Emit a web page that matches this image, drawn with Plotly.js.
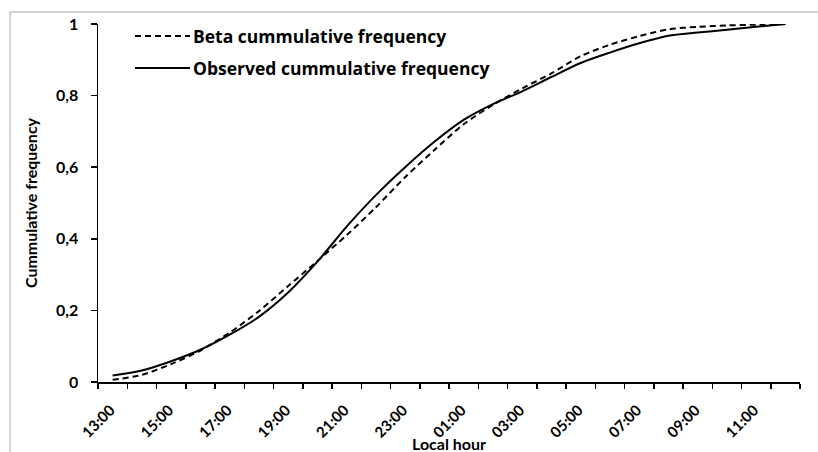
<!DOCTYPE html>
<html>
<head>
<meta charset="utf-8">
<script src="https://cdn.plot.ly/plotly-3.0.1.min.js"></script>
<style>html,body{margin:0;padding:0;background:#fff;}#chart{width:818px;height:452px;}</style>
</head>
<body>
<div id="chart"></div>
<script>
const hours = ['13:00','14:00','15:00','16:00','17:00','18:00','19:00','20:00','21:00','22:00','23:00','00:00',
               '01:00','02:00','03:00','04:00','05:00','06:00','07:00','08:00','09:00','10:00','11:00','12:00'];
const betaCum = [0.006, 0.02, 0.05, 0.088, 0.138, 0.198, 0.268, 0.338, 0.41, 0.488, 0.572, 0.648,
                 0.72, 0.774, 0.82, 0.862, 0.91, 0.942, 0.966, 0.985, 0.992, 0.996, 0.998, 1.0];
const observedCum = [0.018, 0.032, 0.058, 0.09, 0.132, 0.182, 0.25, 0.336, 0.434, 0.522, 0.6, 0.671,
                     0.732, 0.776, 0.812, 0.852, 0.891, 0.92, 0.946, 0.967, 0.976, 0.984, 0.992, 1.0];
const yTicks = [0, 0.2, 0.4, 0.6, 0.8, 1];
const seriesNames = ['Beta cummulative frequency', 'Observed cummulative frequency'];
const xTitle = 'Local hour';
const yTitle = 'Cummulative frequency';

const xIdx = hours.map((h, i) => i);
const labelIdx = xIdx.filter(i => i % 2 === 0);
const labelText = labelIdx.map(i => hours[i]);

const FONT = 'Lato, "Liberation Sans", sans-serif';
const LFONT = '"Open Sans", Lato, sans-serif';

const traces = [
  {x: xIdx, y: betaCum, type: 'scatter', mode: 'lines', name: seriesNames[0],
   line: {color: '#000', width: 2, dash: '6px,4px', shape: 'spline', smoothing: 0.8}},
  {x: xIdx, y: observedCum, type: 'scatter', mode: 'lines', name: seriesNames[1],
   line: {color: '#000', width: 2, shape: 'spline', smoothing: 0.8}}
];

const L = 98, R = 800, T = 24, B = 382;
const px = v => (v - L) / (R - L);
const py = v => (B - v) / (B - T);

const layout = {
  width: 818, height: 452,
  margin: {l: L, r: 818 - R, t: T, b: 452 - B},
  paper_bgcolor: '#fff', plot_bgcolor: '#fff',
  separators: ', ',
  showlegend: false,
  font: {family: FONT, color: '#000', size: 14},
  xaxis: {
    range: [-0.5, 23.5], showgrid: false, zeroline: false,
    showline: true, linecolor: '#000', linewidth: 1.5,
    tickmode: 'array', tickvals: labelIdx, ticktext: labelText, ticks: '',
    tickangle: -45, tickfont: {family: FONT, size: 15, color: '#000', weight: 'bold'},
    ticklabelstandoff: 12, ticklabelshift: -2,
    minor: {tickmode: 'linear', tick0: 0.5, dtick: 1, ticks: 'outside', ticklen: 5, tickwidth: 1.5, tickcolor: '#000', showgrid: false},
    automargin: false
  },
  yaxis: {
    range: [0, 1], showgrid: false, zeroline: false,
    showline: true, linecolor: '#000', linewidth: 1.5,
    tickmode: 'array', tickvals: yTicks, ticks: 'outside', ticklen: 6, tickwidth: 1.5, tickcolor: '#000',
    tickfont: {family: FONT, size: 16, color: '#000', weight: 'bold'},
    ticklabelstandoff: 9,
    title: {text: '<b>' + yTitle + '</b>', font: {family: FONT, size: 16, color: '#000'}, standoff: 14},
    automargin: false
  },
  shapes: [
    {type: 'rect', xref: 'paper', yref: 'paper', x0: px(10), x1: px(840), y0: py(470), y1: py(12),
     line: {color: '#a6a6a6', width: 1}, layer: 'below'},
    {type: 'line', xref: 'paper', yref: 'paper', x0: px(135), x1: px(190), y0: py(36), y1: py(36),
     line: {color: '#000', width: 2, dash: '6px,4px'}},
    {type: 'line', xref: 'paper', yref: 'paper', x0: px(135), x1: px(190), y0: py(68), y1: py(68),
     line: {color: '#000', width: 2}}
  ],
  annotations: [
    {xref: 'paper', yref: 'paper', x: px(191), y: py(36), xanchor: 'left', yanchor: 'middle', showarrow: false,
     text: '<b>' + seriesNames[0] + '</b>', font: {family: LFONT, size: 17.5, color: '#000'}},
    {xref: 'paper', yref: 'paper', x: px(191), y: py(68), xanchor: 'left', yanchor: 'middle', showarrow: false,
     text: '<b>' + seriesNames[1] + '</b>', font: {family: LFONT, size: 17.5, color: '#000'}},
    {xref: 'paper', yref: 'paper', x: 0.5, y: py(454), xanchor: 'center', yanchor: 'bottom', showarrow: false,
     text: '<b>' + xTitle + '</b>', font: {family: FONT, size: 16, color: '#000'}, borderpad: 0}
  ]
};

Plotly.newPlot('chart', traces, layout, {displayModeBar: false, staticPlot: true});
</script>
</body>
</html>
